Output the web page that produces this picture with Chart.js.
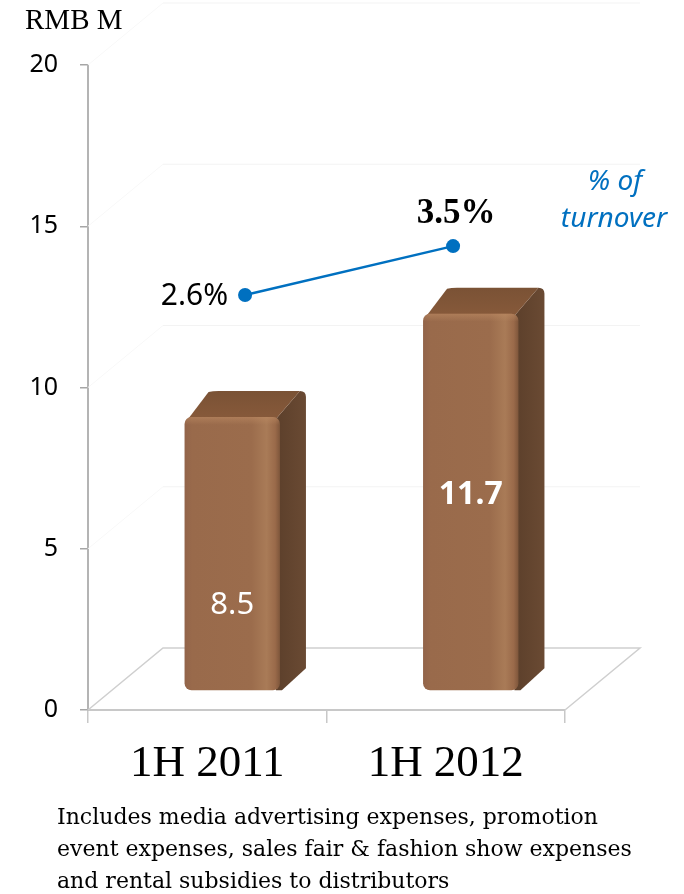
<!DOCTYPE html>
<html>
<head>
<meta charset="utf-8">
<script src="https://cdn.jsdelivr.net/npm/chart.js@4.4.1/dist/chart.umd.min.js"></script>
<style>
  html, body { margin: 0; padding: 0; background: #fff; }
  #wrap { position: relative; width: 684px; height: 894px; }
</style>
</head>
<body>
<div id="wrap"><canvas id="spendChart" width="684" height="894"></canvas></div>
<script>
// Marketing spend, RMB million
const periods = ['1H 2011', '1H 2012'];
const spend = [8.5, 11.7];
const spendLabels = ['8.5', '11.7'];
// Spend as % of turnover
const shareOfTurnover = [2.6, 3.5];
const shareLabels = ['2.6%', '3.5%'];
const yTicks = [0, 5, 10, 15, 20];
const footnote = [
    'Includes media advertising expenses, promotion',
    'event expenses, sales fair & fashion show expenses',
    'and rental subsidies to distributors'
];

const DEPTH = { x: 75, y: -62 };     // floor / back wall depth
const BAR_SHIFT = { x: 25, y: -19 }; // bars sit mid-floor
const BAR_DEPTH = { x: 26, y: -26 };

// floor, back wall and side wall lines
const floorPlugin = {
    id: 'floor',
    beforeDatasetsDraw(chart) {
        const ctx = chart.ctx;
        const { left, right, bottom } = chart.chartArea;
        const y = chart.scales.y;
        ctx.save();
        ctx.lineWidth = 1;
        yTicks.slice(1).forEach(v => {
            const py = y.getPixelForValue(v);
            ctx.strokeStyle = '#f8f8f8';
            ctx.beginPath();
            ctx.moveTo(left, py);
            ctx.lineTo(left + DEPTH.x, py + DEPTH.y);
            ctx.stroke();
            ctx.strokeStyle = '#f3f3f3';
            ctx.beginPath();
            ctx.moveTo(left + DEPTH.x, py + DEPTH.y);
            ctx.lineTo(right + DEPTH.x, py + DEPTH.y);
            ctx.stroke();
        });
        ctx.strokeStyle = '#cfcfcf';
        ctx.lineWidth = 1.5;
        ctx.beginPath();
        ctx.moveTo(left, bottom);
        ctx.lineTo(left + DEPTH.x, bottom + DEPTH.y);
        ctx.lineTo(right + DEPTH.x, bottom + DEPTH.y);
        ctx.lineTo(right, bottom);
        ctx.stroke();
        ctx.restore();
    }
};

// draws the bars as shaded boxes with their value labels
const boxPlugin = {
    id: 'box3d',
    beforeDatasetDraw(chart, args) {
        if (args.meta.type !== 'bar') return;
        const ctx = chart.ctx;
        const opts = chart.options.plugins.box3d;
        args.meta.data.forEach((el, i) => {
            const w = el.width;
            const x0 = el.x - w / 2 + BAR_SHIFT.x;
            const x1 = el.x + w / 2 + BAR_SHIFT.x;
            const top = el.y + BAR_SHIFT.y;
            const bot = el.base + BAR_SHIFT.y;
            const dx = BAR_DEPTH.x, dy = BAR_DEPTH.y;
            ctx.save();
            // side face
            let g = ctx.createLinearGradient(x1, 0, x1 + dx, 0);
            g.addColorStop(0, '#5e412c');
            g.addColorStop(1, '#6a4a33');
            ctx.fillStyle = g;
            ctx.beginPath();
            ctx.moveTo(x1 - 4, top + 2);
            ctx.lineTo(x1 + dx - 6, top + dy);
            ctx.quadraticCurveTo(x1 + dx, top + dy, x1 + dx, top + dy + 6);
            ctx.lineTo(x1 + dx, bot + dy + 4);
            ctx.lineTo(x1 + 2, bot);
            ctx.lineTo(x1 - 4, bot);
            ctx.closePath();
            ctx.fill();
            // top face
            g = ctx.createLinearGradient(0, top + dy, 0, top);
            g.addColorStop(0, '#7a5235');
            g.addColorStop(1, '#86593a');
            ctx.fillStyle = g;
            ctx.beginPath();
            ctx.moveTo(x0 + 2, top + 4);
            ctx.lineTo(x0 + dx - 2, top + dy + 1);
            ctx.quadraticCurveTo(x0 + dx + 2, top + dy, x0 + dx + 8, top + dy);
            ctx.lineTo(x1 + dx - 6, top + dy);
            ctx.lineTo(x1 - 4, top + 2);
            ctx.closePath();
            ctx.fill();
            // front face
            g = ctx.createLinearGradient(x0, 0, x1, 0);
            g.addColorStop(0, '#92644a');
            g.addColorStop(0.08, '#996a4b');
            g.addColorStop(0.7, '#9b6c4c');
            g.addColorStop(0.86, '#a97b57');
            g.addColorStop(0.95, '#9a6a4a');
            g.addColorStop(1, '#7e563b');
            ctx.fillStyle = g;
            ctx.beginPath();
            ctx.roundRect(x0, top, w, bot - top, 7);
            ctx.fill();
            // top edge sheen
            g = ctx.createLinearGradient(0, top, 0, top + 8);
            g.addColorStop(0, 'rgba(190,140,100,0.55)');
            g.addColorStop(1, 'rgba(190,140,100,0)');
            ctx.fillStyle = g;
            ctx.beginPath();
            ctx.roundRect(x0, top, w, 8, [7, 7, 0, 0]);
            ctx.fill();
            // value label
            ctx.fillStyle = '#ffffff';
            ctx.font = opts.fonts[i];
            ctx.textAlign = 'center';
            ctx.textBaseline = 'middle';
            ctx.fillText(spendLabels[i], (x0 + x1) / 2, bot - (bot - top) * opts.labelAt[i]);
            ctx.restore();
        });
        return false;
    }
};

// percentage labels, unit caption, series name and note
const textPlugin = {
    id: 'texts',
    afterDatasetsDraw(chart) {
        const ctx = chart.ctx;
        const pts = chart.getDatasetMeta(1).data;
        ctx.save();
        ctx.fillStyle = '#000';
        ctx.textBaseline = 'middle';
        ctx.font = '30px "Noto Sans"';
        ctx.textAlign = 'right';
        ctx.fillText(shareLabels[0], pts[0].x - 17, pts[0].y + 1);
        ctx.font = 'bold 35px "Liberation Serif"';
        ctx.textAlign = 'center';
        ctx.fillText(shareLabels[1], pts[1].x + 3, pts[1].y - 32);

        ctx.fillStyle = '#0070c0';
        ctx.font = 'italic 28px "Noto Sans"';
        ctx.fillText('% of', 615, 182);
        ctx.fillText('turnover', 614, 219);

        ctx.fillStyle = '#000';
        ctx.textAlign = 'left';
        ctx.font = '29px "Liberation Serif"';
        ctx.fillText('RMB M', 25, 21);

        ctx.font = '22px "DejaVu Serif"';
        footnote.forEach((line, i) => ctx.fillText(line, 57, 818 + i * 32));
        ctx.restore();
    }
};

new Chart(document.getElementById('spendChart'), {
    type: 'bar',
    data: {
        labels: periods,
        datasets: [
            {
                label: 'Spend (RMB M)',
                data: spend,
                backgroundColor: '#9b6c4c',
                categoryPercentage: 0.8,
                barPercentage: 0.5,
                grouped: false,
                xAxisID: 'x',
                yAxisID: 'y',
                order: 2
            },
            {
                type: 'line',
                label: '% of turnover',
                data: shareOfTurnover.map((v, i) => ({ x: i, y: v })),
                borderColor: '#0070c0',
                backgroundColor: '#0070c0',
                borderWidth: 2.5,
                pointRadius: 7,
                pointBackgroundColor: '#0070c0',
                pointBorderWidth: 0,
                xAxisID: 'xp',
                yAxisID: 'yp',
                order: 1
            }
        ]
    },
    options: {
        responsive: false,
        animation: false,
        devicePixelRatio: 1,
        layout: { padding: { top: 65, right: 119, left: 0, bottom: 0 } },
        plugins: {
            legend: { display: false },
            tooltip: { enabled: false },
            box3d: {
                fonts: ['31px "Noto Sans"', 'bold 32px "Noto Sans"'],
                labelAt: [0.31, 0.52]
            }
        },
        scales: {
            x: {
                type: 'category',
                offset: true,
                grid: {
                    offset: true,
                    drawOnChartArea: false,
                    drawTicks: true,
                    tickLength: 13,
                    color: '#c8c8c8',
                    lineWidth: 1.5
                },
                border: { color: '#c8c8c8', width: 2 },
                ticks: {
                    color: '#000',
                    font: { family: '"Liberation Serif"', size: 45 },
                    padding: 14,
                    maxRotation: 0
                },
                afterFit: s => { s.height = 184; }
            },
            y: {
                type: 'linear',
                min: 0,
                max: 20,
                afterBuildTicks: s => { s.ticks = yTicks.map(v => ({ value: v })); },
                grid: {
                    drawOnChartArea: false,
                    drawTicks: true,
                    tickLength: 8,
                    color: '#a6a6a6',
                    lineWidth: 1.5
                },
                border: { color: '#b4b4b4', width: 2 },
                ticks: {
                    color: '#000',
                    font: { family: '"Noto Sans"', size: 25 },
                    padding: 22
                },
                afterFit: s => { s.width = 88; }
            },
            xp: {
                type: 'linear',
                display: false,
                offset: false,
                bounds: 'data',
                min: -0.755,
                max: 1.538
            },
            yp: {
                type: 'linear',
                display: false,
                min: -5.03,
                max: 6.83
            }
        }
    },
    plugins: [floorPlugin, boxPlugin, textPlugin]
});
</script>
</body>
</html>
